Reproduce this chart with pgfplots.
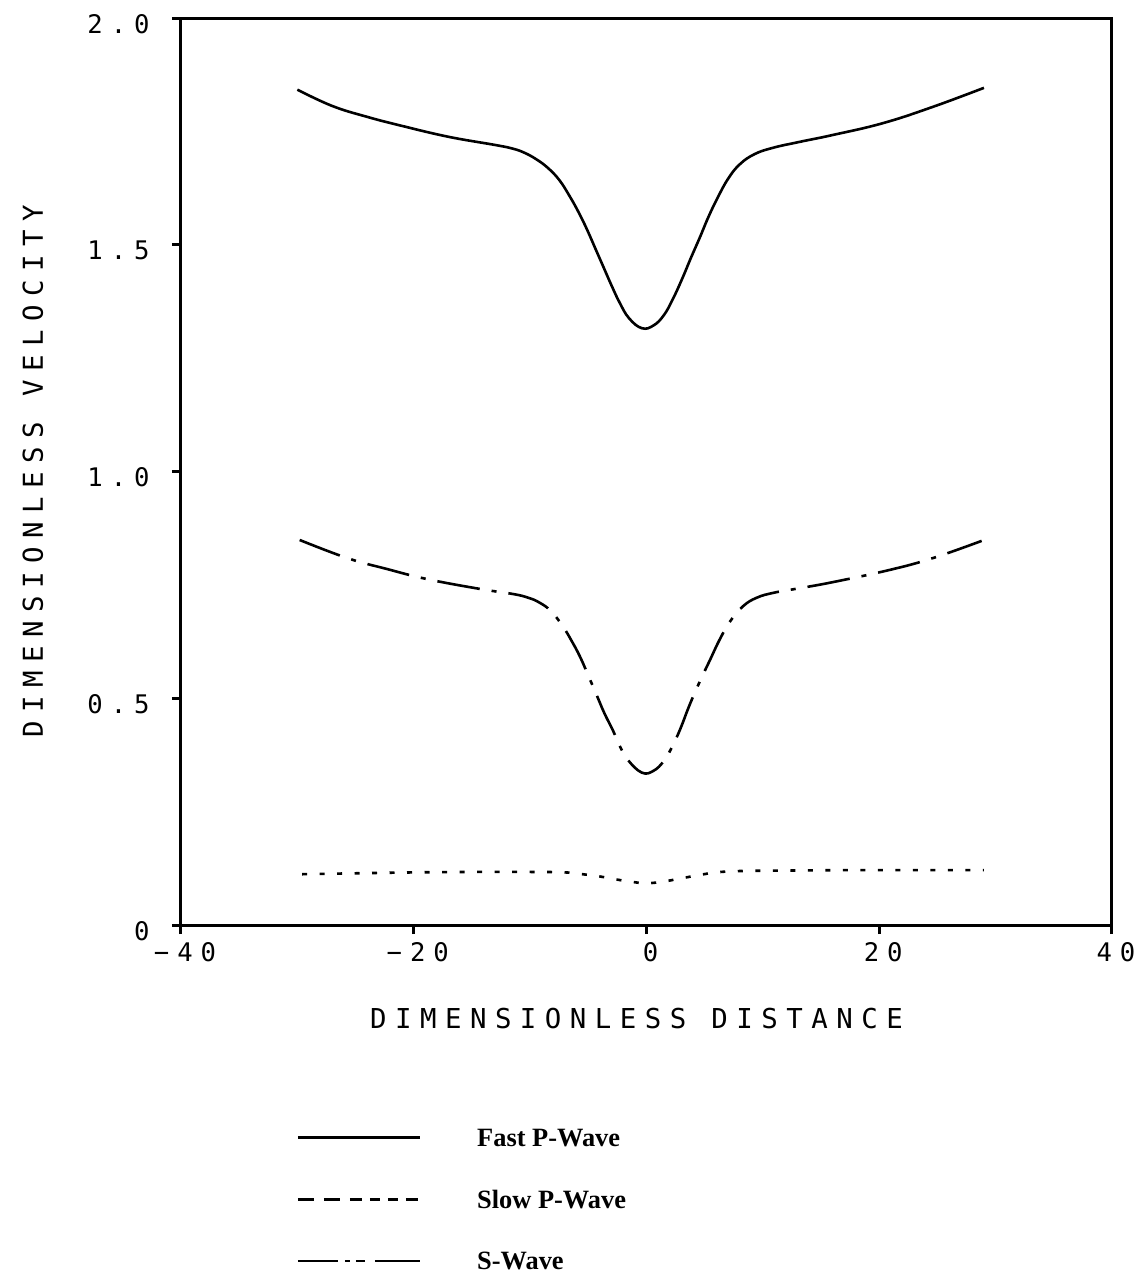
\documentclass[border=0pt]{standalone}
\usepackage{pgfplots}
\pgfplotsset{compat=1.18}
\usepackage{fontspec}
\setmainfont{Liberation Serif}
\newfontfamily\plotfont[LetterSpace=31]{DejaVu Sans Mono}
\newfontfamily\tickfont[LetterSpace=31]{DejaVu Sans Mono}
\begin{document}
\begin{tikzpicture}
\begin{axis}[
  scale only axis, width=465.5pt, height=453.5pt,
  xmin=-40, xmax=40, ymin=0, ymax=2,
  axis line style={line width=1.5pt},
  tick pos=left, tick align=outside, major tick length=4.5pt,
  tick style={line width=1.5pt, black},
  xtick={-40,-20,0,20,40}, xticklabels={−40,−20,0,20,40},
  ytick={0,0.5,1,1.5,2}, yticklabels={0,0.5,1.0,1.5,2.0},
  ticklabel style={font=\tickfont\fontsize{12.8}{14}\selectfont, inner sep=0pt},
  xticklabel style={anchor=north, xshift=2pt, yshift=-4pt},
  yticklabel style={anchor=east, xshift=-11pt, yshift=-3pt},
  xlabel={DIMENSIONLESS DISTANCE},
  ylabel={DIMENSIONLESS VELOCITY},
  label style={font=\plotfont\fontsize{13.7}{16}\selectfont},
  xlabel style={at={(axis description cs:0.5,-0.1036)}, anchor=center, xshift=-5pt},
  ylabel style={at={(axis description cs:-0.159,0.5)}, anchor=center, rotate=0},
  legend style={at={(axis description cs:0.1235,-0.2244)}, anchor=north west,
    draw=none, fill=none, inner sep=0pt, row sep=22pt,
    font=\bfseries\fontsize{13.2}{14}\selectfont,
    nodes={inner sep=0pt, text height=8.8pt, text depth=0pt}},
  legend cell align=left,
]
\addplot[black, line width=1.3pt, smooth, tension=0.7, forget plot] coordinates {
(-30,1.842) (-27,1.806) (-24,1.782) (-21,1.762) (-17,1.738) (-13,1.720) (-11.5,1.712)
(-10.5,1.703) (-9.5,1.689) (-8.5,1.670) (-7.5,1.643) (-6.6,1.607) (-5.8,1.570) (-5.1,1.533) (-4.4,1.492) (-3.7,1.451) (-3,1.410) (-2.3,1.372) (-1.5,1.338)
(-0.4,1.316) (0.6,1.322) (1.5,1.345) (2.3,1.382) (3.1,1.427) (3.8,1.470) (4.6,1.517) (5.3,1.560) (6.1,1.603) (7,1.645) (8,1.677)
(9.3,1.700) (10.9,1.714) (13,1.726) (16,1.742) (20.3,1.768) (24.6,1.804) (29,1.846)};
\addplot[black, line width=1.3pt, smooth, tension=0.7, forget plot,
  dash pattern=on 21.5pt off 6pt on 2.5pt off 6pt] coordinates {
(-29.8,0.849) (-25.7,0.809) (-22.3,0.785) (-18.9,0.763) (-14.3,0.741) (-11.5,0.730) (-10.2,0.722)
(-9.2,0.711) (-8.2,0.692) (-7.2,0.659) (-6.4,0.625) (-5.7,0.591) (-5,0.550) (-4.25,0.505) (-3.6,0.466) (-2.9,0.430) (-2.3,0.395) (-1.6,0.364)
(-0.4,0.336) (0.6,0.340) (1.5,0.362) (2.2,0.393) (2.9,0.432) (3.7,0.485) (4.6,0.538) (5.45,0.584) (6.3,0.630) (7.2,0.670) (8.3,0.703)
(9.5,0.722) (11,0.733) (13,0.742) (16,0.756) (20.9,0.783) (24.6,0.809) (28.8,0.847)};
\addplot[black, line width=1.3pt, smooth, tension=0.7, forget plot,
  dash pattern=on 2.5pt off 6.25pt] coordinates {
(-29.6,0.112) (-25,0.114) (-20,0.116) (-15,0.117) (-10,0.117) (-7,0.116) (-5.5,0.112)
(-4,0.107) (-2.5,0.100) (-1.2,0.095) (0,0.092) (1.5,0.096) (3,0.103) (4.5,0.110)
(6,0.116) (8,0.119) (12,0.120) (18,0.121) (24,0.121) (29,0.121)};
\addlegendimage{legend image code/.code={
  \draw[black, line width=1.4pt] (0pt,0pt) -- (61pt,0pt);
  \path (0pt,0pt) (89.5pt,0pt);}}
\addlegendentry{Fast P-Wave}
\addlegendimage{legend image code/.code={
  \draw[black, line width=1.4pt, dash pattern=on 8pt off 5pt on 8pt off 5pt on 6pt off 4pt on 5pt off 4pt on 5pt off 4pt on 6pt] (0pt,0pt) -- (61pt,0pt);
  \path (0pt,0pt) (89.5pt,0pt);}}
\addlegendentry{Slow P-Wave}
\addlegendimage{legend image code/.code={
  \draw[black, line width=1.4pt] (0pt,0pt) -- (20pt,0pt);
  \draw[black, line width=1.4pt] (23.5pt,0pt) -- (26pt,0pt);
  \draw[black, line width=1.4pt] (29pt,0pt) -- (33.5pt,0pt);
  \draw[black, line width=1.4pt] (38.5pt,0pt) -- (61pt,0pt);
  \path (0pt,0pt) (89.5pt,0pt);}}
\addlegendentry{S-Wave}
\end{axis}
\pgfresetboundingbox
\path (-90.5pt,-178pt) rectangle (482.5pt,462.5pt);
\end{tikzpicture}
\end{document}
